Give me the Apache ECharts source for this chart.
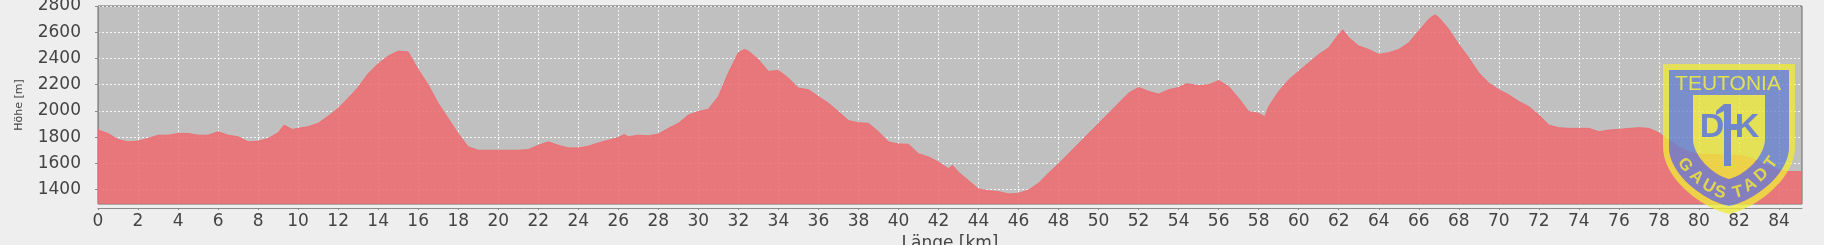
<!DOCTYPE html>
<html><head><meta charset="utf-8">
<script src="https://cdn.jsdelivr.net/npm/echarts@6/dist/echarts.min.js"></script>
<style>html,body{margin:0;padding:0;background:#eeeeee;}#c{width:1824px;height:245px;}</style>
</head><body><div id="c"></div>
<script>
const distanceKm = [0,0.5,1,1.5,2,2.5,3,3.5,4,4.5,5,5.5,6,6.5,7,7.5,8,8.5,9,9.3,9.7,10,10.5,11,11.5,12,12.5,13,13.5,14,14.5,15,15.5,16,16.5,17,17.5,18,18.5,19,20,21,21.5,22,22.5,23,23.5,24,24.5,25,25.5,26,26.3,26.5,27,27.5,28,28.5,29,29.5,30,30.5,31,31.5,32,32.3,32.5,33,33.5,34,34.5,35,35.5,36,36.5,37,37.5,38,38.5,39,39.5,40,40.5,41,41.5,42,42.5,42.7,43,43.5,44,44.5,45,45.5,46,46.5,47,47.5,48,48.5,49,49.5,50,50.5,51,51.5,52,52.5,53,53.5,54,54.4,55,55.5,56,56.5,57,57.5,58,58.3,58.5,59,59.5,60,60.5,61,61.5,62,62.2,62.5,63,63.5,64,64.5,65,65.5,66,66.5,66.8,67,67.5,68,68.5,69,69.5,70,70.5,71,71.5,72,72.5,73,73.5,74,74.5,75,75.5,76,76.5,77,77.5,78,78.5,79,79.5,80,81,82,82.5,83,83.5,84,84.5,85.15];
const elevationM = [1854,1828,1782,1764,1770,1790,1815,1815,1828,1828,1815,1815,1841,1815,1803,1764,1769,1790,1833,1892,1859,1867,1880,1905,1960,2020,2097,2180,2285,2360,2418,2456,2450,2316,2200,2059,1944,1828,1726,1700,1700,1700,1705,1738,1764,1738,1718,1718,1731,1756,1777,1797,1820,1803,1815,1810,1823,1867,1905,1969,1995,2013,2110,2290,2444,2469,2456,2392,2302,2308,2251,2174,2162,2110,2059,1995,1926,1910,1905,1841,1764,1748,1746,1674,1649,1610,1559,1585,1533,1469,1405,1392,1385,1367,1372,1397,1449,1526,1597,1674,1751,1828,1905,1982,2059,2136,2179,2149,2128,2162,2179,2208,2192,2200,2231,2187,2097,1995,1982,1956,2033,2149,2238,2303,2367,2431,2482,2585,2618,2559,2495,2469,2431,2444,2469,2520,2610,2700,2733,2713,2623,2508,2405,2290,2213,2162,2123,2072,2033,1969,1892,1872,1867,1867,1867,1841,1854,1859,1867,1872,1867,1833,1777,1726,1687,1669,1665,1662,1645,1615,1584,1550,1538,1536];
const xTickValues = [0,2,4,6,8,10,12,14,16,18,20,22,24,26,28,30,32,34,36,38,40,42,44,46,48,50,52,54,56,58,60,62,64,66,68,70,72,74,76,78,80,82,84];
const yTickValues = [1400,1600,1800,2000,2200,2400,2600,2800];
const xAxisTitle = 'Länge [km]';
const yAxisTitle = 'Höhe [m]';
const logoTop = 'TEUTONIA';
const logoArc = ['G','A','U','S','T','A','D','T'];

const seriesData = distanceKm.map((d, i) => [d, elevationM[i]]);

function shieldPts(x0, x1, yTop, ySide, yTip, n) {
  const xm = (x0 + x1) / 2, H = yTip - ySide;
  const pts = [[x0, yTop], [x1, yTop], [x1, ySide]];
  const P0 = [x1, ySide], C1 = [x1, ySide + H * 0.45], C2 = [xm + (x1 - xm) * 0.45, yTip - H * 0.1], P3 = [xm, yTip];
  const bez = (t) => {
    const a = (1 - t) ** 3, b = 3 * (1 - t) ** 2 * t, c = 3 * (1 - t) * t * t, d = t ** 3;
    return [a * P0[0] + b * C1[0] + c * C2[0] + d * P3[0], a * P0[1] + b * C1[1] + c * C2[1] + d * P3[1]];
  };
  const right = [];
  for (let i = 1; i <= n; i++) right.push(bez(i / n));
  right.forEach(p => pts.push(p));
  for (let i = n - 1; i >= 0; i--) { const p = i === 0 ? P0 : right[i - 1]; pts.push([2 * xm - p[0], p[1]]); }
  return pts;
}
function ring(outer, inner) {
  const pts = outer.slice();
  pts.push(outer[0]);
  const rev = inner.slice().reverse();
  rev.forEach(p => pts.push(p));
  pts.push(rev[0]);
  pts.push(outer[0]);
  return pts;
}
const outerS = shieldPts(1663, 1795, 64, 147, 214, 20);
const blueS = shieldPts(1669, 1789, 70, 147, 206, 20);
const innerS = shieldPts(1693, 1765, 95, 138, 179, 20);
const YEL = '#eeea3a', BLUE = '#6680d0', A = 0.78;

const arcPos = [[1685,165,-55],[1696.5,177,-42],[1708.5,186.5,-28],[1720,192.5,-12],[1738,192.5,15],[1750,185,30],[1761.5,175,42],[1771.5,163,53]];
const arcTexts = logoArc.map((ch, i) => ({
  type: 'text', x: arcPos[i][0], y: arcPos[i][1], rotation: arcPos[i][2] * Math.PI / 180, z: 110,
  style: { text: ch, fill: '#e9dc45', opacity: 0.92, font: 'bold 17px "Liberation Sans", Arial, sans-serif', align: 'center', verticalAlign: 'middle' }
}));

const chart = echarts.init(document.getElementById('c'), null, { renderer: 'canvas' });
chart.setOption({
  animation: false,
  backgroundColor: '#eeeeee',
  grid: { left: 98, right: 22, top: 6, bottom: 41, containLabel: false, outerBoundsMode: 'none', show: true, backgroundColor: '#c0c0c0', borderColor: '#666666', borderWidth: 1 },
  xAxis: {
    type: 'value', min: 0, max: 85.15, offset: 4,
    name: xAxisTitle, nameLocation: 'middle', nameGap: 21,
    nameTextStyle: { fontFamily: 'DejaVu Sans', fontSize: 17, color: '#444444' },
    axisLine: { show: true, lineStyle: { color: '#8a8a8a', width: 1 } },
    axisTick: { show: true, length: 2, customValues: xTickValues, lineStyle: { color: '#8a8a8a' } },
    axisLabel: { customValues: xTickValues, margin: 5, fontFamily: 'DejaVu Sans', fontSize: 17, color: '#444444', formatter: (v) => String(v) },
    splitLine: { show: true, lineStyle: { color: '#ffffff', type: [2, 2], width: 1, opacity: 0.85 } }
  },
  yAxis: {
    type: 'value', min: 1290, max: 2800, offset: 6,
    name: yAxisTitle, nameLocation: 'middle', nameGap: 67,
    nameTextStyle: { fontFamily: 'DejaVu Sans', fontSize: 11, color: '#444444' },
    axisLine: { show: true, lineStyle: { color: '#8a8a8a', width: 1 } },
    axisTick: { show: true, length: 3, customValues: yTickValues, lineStyle: { color: '#8a8a8a' } },
    axisLabel: { customValues: yTickValues, margin: 11, fontFamily: 'DejaVu Sans', fontSize: 17, color: '#444444', formatter: (v) => String(v) },
    splitLine: { show: true, lineStyle: { color: '#ffffff', type: [2, 2], width: 1, opacity: 0.85 } }
  },
  series: [{
    type: 'line', data: seriesData, symbol: 'none', showSymbol: false,
    lineStyle: { color: '#ef6a6f', width: 1, opacity: 0.85 },
    itemStyle: { color: '#ef6a6f' },
    areaStyle: { color: '#ef6a6f', opacity: 0.85, origin: 'start' }
  }],
  graphic: [
    { type: 'polygon', z: 100, shape: { points: ring(outerS, blueS) }, style: { fill: YEL, opacity: A } },
    { type: 'polygon', z: 100, shape: { points: ring(blueS, innerS) }, style: { fill: BLUE, opacity: A } },
    { type: 'polygon', z: 100, shape: { points: innerS }, style: { fill: YEL, opacity: A } },
    { type: 'text', z: 110, x: 1728, y: 84, style: { text: logoTop, fill: '#ece648', opacity: 0.92, font: '21px "Liberation Sans", Arial, sans-serif', align: 'center', verticalAlign: 'middle' } },
    { type: 'text', z: 110, x: 1712, y: 128, style: { text: 'D', fill: '#6f86cc', font: 'bold 34px "Liberation Sans", Arial, sans-serif', align: 'center', verticalAlign: 'middle' } },
    { type: 'text', z: 110, x: 1747, y: 128, style: { text: 'K', fill: '#6f86cc', font: 'bold 34px "Liberation Sans", Arial, sans-serif', align: 'center', verticalAlign: 'middle' } },
    { type: 'rect', z: 110, shape: { x: 1724, y: 104, width: 7, height: 62 }, style: { fill: '#6f86cc' } },
    { type: 'polygon', z: 110, shape: { points: [[1724,104],[1716,111],[1716,115],[1724,111]] }, style: { fill: '#6f86cc' } },
    { type: 'rect', z: 110, shape: { x: 1731, y: 124, width: 6, height: 6 }, style: { fill: '#6f86cc' } }
  ].concat(arcTexts)
});
</script></body></html>
